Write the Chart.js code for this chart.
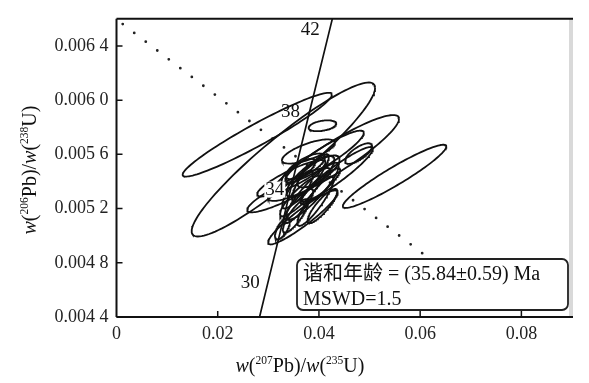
<!DOCTYPE html>
<html>
<head>
<meta charset="utf-8">
<script src="https://cdn.jsdelivr.net/npm/chart.js@4.4.0/dist/chart.umd.min.js"></script>
<style>
html,body{margin:0;padding:0;background:#fff;}
#wrap{width:589px;height:383px;position:relative;}
</style>
</head>
<body>
<div id="wrap"><canvas id="c" width="589" height="383"></canvas></div>
<script>
// ---- data ----
// error ellipses: centre, half-extent x, half-extent y, correlation
const ellCx  = [0.02782,0.03297,0.05495,0.04287,0.04347,0.04069,0.04109,0.03455,0.03406,0.03683,0.03277,
                0.03733,0.03832,0.03634,0.03871,0.03990,0.03594,0.03931,0.03733,0.04030,0.03673,0.03792,0.03535,
                0.04782,0.04069,0.03594];
const ellCy  = [0.005745,0.005562,0.005438,0.005573,0.005452,0.005811,0.005584,0.005423,0.005336,0.005135,0.005051,
                0.005401,0.005438,0.005292,0.005328,0.005474,0.005219,0.005255,0.005511,0.005365,0.005365,0.005621,0.005146,
                0.005606,0.005219,0.005474];
const ellSx  = [0.01475,0.01812,0.01022,0.01295,0.00719,0.00273,0.00778,0.00677,0.00826,0.00689,0.00147,
                0.00461,0.00473,0.00404,0.00521,0.00418,0.00293,0.00358,0.00386,0.00390,0.00206,0.00523,0.00248,
                0.00267,0.00293,0.00335];
const ellSy  = [0.000309,0.000568,0.000233,0.000317,0.000202,0.0000401,0.000191,0.000134,0.000164,0.000199,0.0000782,
                0.000200,0.000152,0.000149,0.000210,0.000118,0.000126,0.000182,0.000095,0.000132,0.000116,0.0000892,0.000123,
                0.000076,0.000126,0.0000936];
const ellRho = [0.956,0.931,0.944,0.912,0.934,0.384,0.914,0.876,0.895,0.930,0.65,
                0.898,0.797,0.882,0.892,0.750,0.857,0.885,0.720,0.898,0.756,0.718,0.821,
                0.728,0.857,0.762];

// concordia curve points (age in Ma)
const concAge = [28, 30, 34, 38, 42, 43];
const concX   = [0.027960, 0.029986, 0.034052, 0.038133, 0.042231, 0.043258];
const concY   = [0.0043529, 0.0046646, 0.0052882, 0.0059122, 0.0065366, 0.0066927];
const ageLabels = ["30", "34", "38", "42"];
const ageLabelAges = [30, 34, 38, 42];

// dotted reference line
const discX = [0.00123, 0.0763];
const discY = [0.006561, 0.004417];

// axes
const xTicks = [0, 0.02, 0.04, 0.06, 0.08];
const xTickLabels = ["0", "0.02", "0.04", "0.06", "0.08"];
const yTicks = [0.0044, 0.0048, 0.0052, 0.0056, 0.0060, 0.0064];
const yTickLabels = ["0.004 4", "0.004 8", "0.005 2", "0.005 6", "0.006 0", "0.006 4"];

const boxLine1 = "谐和年龄 = (35.84±0.59) Ma";
const boxLine2 = "MSWD=1.5";

// ---- build datasets ----
const datasets = [];
for (let i = 0; i < ellCx.length; i++) {
  const pts = [];
  const r = ellRho[i], q = Math.sqrt(1 - r * r);
  for (let k = 0; k <= 120; k++) {
    const t = k / 120 * 2 * Math.PI;
    pts.push({ x: ellCx[i] + ellSx[i] * Math.cos(t),
               y: ellCy[i] + ellSy[i] * (r * Math.cos(t) + q * Math.sin(t)) });
  }
  datasets.push({ data: pts, showLine: true, borderColor: '#111', borderWidth: 1.8,
                  pointRadius: 0, fill: false, tension: 0 });
}
datasets.push({ data: concX.map((x, i) => ({ x, y: concY[i] })), showLine: true,
                borderColor: '#111', borderWidth: 1.7, pointRadius: 0, tension: 0 });
datasets.push({ data: discX.map((x, i) => ({ x, y: discY[i] })), showLine: true,
                borderColor: '#222', borderWidth: 2.8, borderDash: [0, 14.5],
                borderCapStyle: 'round', pointRadius: 0, tension: 0 });

const SERIF = "'Liberation Serif', 'Times New Roman', serif";

function drawParts(ctx, parts, x, y) {
  const main = 20, sup = 11.5;
  const fontOf = s => s === 'i' ? `italic ${main}px ${SERIF}` : s === 's' ? `${sup}px ${SERIF}` : `${main}px ${SERIF}`;
  let total = 0;
  parts.forEach(p => { ctx.font = fontOf(p[1]); total += ctx.measureText(p[0]).width; });
  let cx = x - total / 2;
  ctx.textBaseline = 'alphabetic';
  ctx.textAlign = 'left';
  parts.forEach(p => {
    ctx.font = fontOf(p[1]);
    const dy = p[1] === 's' ? -8.5 : 0;
    ctx.fillText(p[0], cx, y + dy);
    cx += ctx.measureText(p[0]).width;
  });
}

const deco = {
  id: 'deco',
  afterDatasetsDraw(chart) {
    const ctx = chart.ctx;
    const xs = chart.scales.x, ys = chart.scales.y;
    const a = chart.chartArea;
    ctx.save();
    // right gray strip
    ctx.fillStyle = '#d9d9d9';
    ctx.fillRect(a.right - 3, a.top, 4, a.bottom - a.top);
    // frame: top, left, bottom
    ctx.strokeStyle = '#111';
    ctx.lineWidth = 2;
    ctx.beginPath();
    ctx.moveTo(a.left, a.top); ctx.lineTo(a.right + 1, a.top);
    ctx.moveTo(a.left, a.top); ctx.lineTo(a.left, a.bottom);
    ctx.moveTo(a.left, a.bottom); ctx.lineTo(a.right + 1, a.bottom);
    ctx.stroke();
    // inward ticks
    ctx.lineWidth = 1.5;
    ctx.beginPath();
    xTicks.forEach(v => { if (v === 0) return; const px = xs.getPixelForValue(v);
      ctx.moveTo(px, a.bottom); ctx.lineTo(px, a.bottom - 6); });
    yTicks.forEach(v => { const py = ys.getPixelForValue(v);
      ctx.moveTo(a.left, py); ctx.lineTo(a.left + 6, py); });
    ctx.stroke();

    // age labels
    const offs = [[-18, 2], [-14, -7], [-19, 0], [-20, 3]];
    ctx.font = `19px ${SERIF}`;
    ctx.textAlign = 'center';
    ctx.textBaseline = 'middle';
    ageLabelAges.forEach((age, i) => {
      const j = concAge.indexOf(age);
      const px = xs.getPixelForValue(concX[j]) + offs[i][0];
      const py = ys.getPixelForValue(concY[j]) + offs[i][1];
      if (ageLabels[i] === "34") {
        const w = ctx.measureText(ageLabels[i]).width;
        ctx.fillStyle = '#fff';
        ctx.fillRect(px - w / 2 - 1, py - 8, w + 2, 16);
      }
      ctx.fillStyle = '#111';
      ctx.fillText(ageLabels[i], px, py);
    });

    // annotation box
    const bx = 297, by = 259, bw = 271, bh = 51, r = 6;
    ctx.beginPath();
    ctx.moveTo(bx + r, by);
    ctx.arcTo(bx + bw, by, bx + bw, by + bh, r);
    ctx.arcTo(bx + bw, by + bh, bx, by + bh, r);
    ctx.arcTo(bx, by + bh, bx, by, r);
    ctx.arcTo(bx, by, bx + bw, by, r);
    ctx.closePath();
    ctx.fillStyle = '#fff';
    ctx.fill();
    ctx.strokeStyle = '#222';
    ctx.lineWidth = 1.8;
    ctx.stroke();
    ctx.fillStyle = '#111';
    ctx.textAlign = 'left';
    ctx.textBaseline = 'alphabetic';
    ctx.font = `20px ${SERIF}, 'Noto Sans CJK SC'`;
    ctx.fillText(boxLine1, bx + 6, by + 21);
    ctx.fillText(boxLine2, bx + 6, by + 46);

    // axis titles
    ctx.fillStyle = '#111';
    drawParts(ctx, [['w', 'i'], ['(', 'n'], ['207', 's'], ['Pb)/', 'n'], ['w', 'i'], ['(', 'n'], ['235', 's'], ['U)', 'n']],
      300, 372);
    ctx.save();
    ctx.translate(36, 170);
    ctx.rotate(-Math.PI / 2);
    drawParts(ctx, [['w', 'i'], ['(', 'n'], ['206', 's'], ['Pb)/', 'n'], ['w', 'i'], ['(', 'n'], ['238', 's'], ['U)', 'n']],
      0, 0);
    ctx.restore();
    ctx.restore();
  }
};

new Chart(document.getElementById('c'), {
  type: 'scatter',
  data: { datasets },
  plugins: [deco],
  options: {
    responsive: false,
    animation: false,
    events: [],
    layout: { padding: { left: 0, top: 16, right: 17, bottom: 0 } },
    plugins: { legend: { display: false }, tooltip: { enabled: false } },
    scales: {
      x: {
        type: 'linear', min: 0, max: 0.09,
        grid: { display: false, drawTicks: false },
        border: { display: false },
        afterBuildTicks: s => { s.ticks = xTicks.map(v => ({ value: v })); },
        afterFit: s => { s.height = 66; },
        ticks: { padding: 6, color: '#222', font: { family: SERIF, size: 18 },
                 callback: (v, i) => xTickLabels[i] }
      },
      y: {
        type: 'linear', min: 0.0044, max: 0.0066,
        grid: { display: false, drawTicks: false },
        border: { display: false },
        afterBuildTicks: s => { s.ticks = yTicks.map(v => ({ value: v })); },
        afterFit: s => { s.width = 116.5; },
        ticks: { padding: 8, color: '#222', font: { family: SERIF, size: 18 },
                 callback: (v, i) => yTickLabels[i] }
      }
    }
  }
});
</script>
</body>
</html>
